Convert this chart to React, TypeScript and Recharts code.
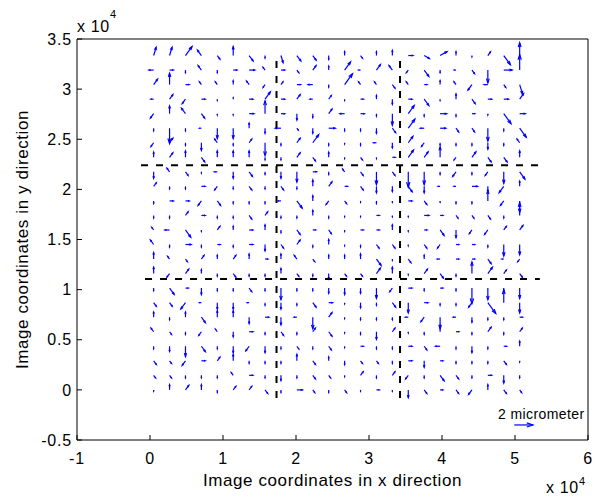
import { ScatterChart, XAxis, YAxis, ReferenceLine } from 'recharts'

// axis ticks (image pixels)
const xTicks = [-10000, 0, 10000, 20000, 30000, 40000, 50000, 60000]
const yTicks = [-5000, 0, 5000, 10000, 15000, 20000, 25000, 30000, 35000]

// measurement grid
const gridX = [500, 2680, 4860, 7040, 9220, 11400, 13580, 15760, 17940, 20120, 22300, 24480,
  26660, 28840, 31020, 33200, 35380, 37560, 39740, 41920, 44100, 46280, 48460, 50640]
const gridY = [0, 1450, 2900, 4350, 5800, 7250, 8700, 10150, 11600, 13050, 14500, 15950,
  17400, 18850, 20300, 21750, 23200, 24650, 26100, 27550, 29000, 30450, 31900, 33350]

// displacement per grid point: compass direction + length in 0.1 micrometer, top row first
const displacementRows = [
  'NNE7 NNE7 NE10 NW6 SE4 N7 SE6 S2 SSE6 SE6 SE5 S3 N3 SE3 N3 N4 E5 ESE6 ENE8 N3 S1 NE4 SE10 N10',
  'W5 E4 S2 NW5 S2 E4 E6 NW3 E4 SE3 NE5 N3 NE9 W2 NE6 NW5 SW3 SE7 S2 W2 SE4 S10 E9 N12',
  'NE6 N9 E4 NW3 NW3 N3 NW4 SW3 NE3 E4 W5 S2 NE12 NW3 NW3 SE4 NW3 E3 N3 NW3 SW6 W4 SE3 SSE8',
  'W3 NE5 SW5 E4 S1 N1 E4 NE8 E4 NE5 W3 NE4 S1 E3 N3 S4 E4 SE7 S1 N4 SE5 E4 E5 NE6',
  'SW5 N6 NW6 SE5 S1 S1 E5 N10 E4 S5 S3 NE5 W5 E4 S2 S9 NE9 S2 E7 S2 E3 S1 SE11 E6',
  'S2 S12 S2 W2 S8 S8 N4 S4 W6 SE2 S4 E7 S2 S2 S4 SE5 NE10 W4 E6 SE4 SE4 S10 S2 SE10',
  'SW4 NE5 S2 S6 NW4 S2 NE4 S10 S2 NE5 NE9 S2 S1 S2 W3 S4 NE7 SW4 S2 S2 S2 S5 S2 NW4',
  'N4 NE5 N5 SE5 N5 N5 N5 S2 S2 NE5 SE4 N4 S1 SE3 S1 E3 NE8 NE6 N8 SW3 NE6 SE5 SE5 N5',
  'S5 NW4 SE4 S1 W3 S5 SE5 S2 S5 S8 E4 S2 NW3 SE4 S10 SE4 S12 S10 S2 SW5 S2 SW4 S9 SE8',
  'NE4 S2 S2 E4 SW4 S2 SE4 S2 SE4 S2 N5 NE5 E3 SE4 S5 S4 SE6 S5 W2 W2 E6 S4 SW7 N4',
  'S2 E4 E4 SW5 SE5 S2 S2 S2 W3 SE8 N4 SW4 SE3 S1 S2 S1 E4 SE4 S1 S2 S2 N8 SW5 S9',
  'S2 S2 NE4 E4 S2 S2 SE4 NE4 S2 S2 N4 S2 S1 S1 E3 S1 S1 E5 E3 SE3 SE3 SE4 S2 N10',
  'NW3 W5 SE8 S1 NE4 N3 E4 N4 S2 SE5 E3 SE4 S1 E3 E3 N4 S1 E3 SE6 S6 SW4 SW5 NE4 NE5',
  'NW5 S2 E6 S2 E3 S2 E4 S5 SE4 NE5 S2 N4 S1 S2 SE4 SE4 S1 SE4 SW4 E3 E3 S2 S9 S8',
  'N5 NW3 SE3 NE4 N3 NE4 N4 E3 N4 NW4 SE3 N3 N3 N4 SE7 S1 SE4 N3 W3 E3 E3 SE5 W2 SW3',
  'N5 SW4 NE5 N3 S2 SE4 S2 S2 N4 SE3 S2 S4 SE3 SE3 NE6 N5 S1 NE5 SE5 S2 N9 NE7 NE4 SE4',
  'S2 SE7 E3 S5 S2 S2 SE4 S2 S9 S2 S2 S4 S5 S4 S8 SW4 E4 S2 E3 S2 S12 S9 S2 S8',
  'SE4 SE4 SW7 W2 S5 S5 W2 S2 S5 S2 SE5 E4 S1 S4 S2 SE5 S8 E4 S2 S2 SW5 SE12 N10 S8',
  'N4 S2 N4 SE6 N5 N5 S5 E4 S6 W3 S9 NE5 S1 S2 S2 S2 W3 SW5 S9 W3 S4 S2 S2 E3',
  'NW4 SE3 S2 SW4 NW3 S4 E4 S2 SE4 S2 NE4 SE5 S1 S2 S6 NE4 S1 S2 N5 E3 S2 NE5 S2 NE4',
  'S2 S4 S8 SE6 S2 S5 SW5 S5 S2 SE3 S2 SE4 S1 E3 S2 S2 E4 SE4 W5 S2 S5 S2 E3 N4',
  'SE4 SE3 SW5 E4 NE4 N5 S2 S2 S2 N5 SE4 N3 S3 SE3 SE3 S2 E4 S5 E3 S2 S2 S2 SE4 S1',
  'SE3 SE3 S2 S2 S2 NW3 E4 S2 S4 S2 SE4 SE3 S1 NE4 S2 NE4 SW4 S2 SE6 SE4 S2 E4 S6 S2',
  'S1 N4 NE5 N4 S2 NE4 NE4 SE4 S2 E6 SE3 S2 SE3 S1 E3 S1 S6 SE4 E3 SE4 SW5 N4 SE4 SE3',
]

// dashed section lines
const verticalCuts = [17330, 34250]
const verticalCutSpan = [-810, 33400]
const horizontalCuts = [
  { y: 22400, from: -1230, to: 53560 },
  { y: 11060, from: -680, to: 53400 },
]

// scale arrow: 2 micrometer
const scaleArrow = { x: 49900, y: -3500, microns: 2 }
const unitsPerMicron = 1280

const compass: Record<string, number> = {
  E: 0, ENE: 22.5, NE: 45, NNE: 67.5, N: 90, NNW: 112.5, NW: 135, WNW: 157.5,
  W: 180, WSW: 202.5, SW: 225, SSW: 247.5, S: 270, SSE: 292.5, SE: 315, ESE: 337.5,
}

const arrows = displacementRows.flatMap((row, r) => {
  const y = gridY[gridY.length - 1 - r]
  return row.split(' ').map((tok, c) => {
    const m = tok.match(/^([NSEW]+)(\d+)$/)!
    const ang = (compass[m[1]] * Math.PI) / 180
    const len = (Number(m[2]) / 10) * unitsPerMicron
    return { x: gridX[c], y, u: len * Math.cos(ang), v: len * Math.sin(ang) }
  })
})

function Arrow(props: any) {
  const { x1, y1, x2, y2 } = props
  const dx = x2 - x1
  const dy = y2 - y1
  if (!dx && !dy) return null
  const a = 0.33
  const b = 0.33
  const p1 = `${x2 - a * (dx + b * dy)},${y2 - a * (dy - b * dx)}`
  const p2 = `${x2 - a * (dx - b * dy)},${y2 - a * (dy + b * dx)}`
  return (
    <g>
      <line x1={x1} y1={y1} x2={x2} y2={y2} stroke="#0000ff" strokeWidth={1.2} />
      <polyline points={`${p1} ${x2},${y2} ${p2}`} fill="none" stroke="#0000ff" strokeWidth={1.2} />
    </g>
  )
}

const fmt = (v: number) => String(v / 10000)
const font = "'Liberation Sans', Arial, sans-serif"

export default function App() {
  return (
    <div style={{ position: 'absolute', left: 0, top: 0, width: 602, height: 496, background: '#fff', fontFamily: font }}>
      <ScatterChart width={602} height={496} margin={{ top: 38, right: 13, bottom: 6, left: 17 }}>
        <XAxis
          type="number"
          dataKey="x"
          domain={[-10000, 60000]}
          ticks={xTicks}
          interval={0}
          allowDataOverflow
          tickFormatter={fmt}
          tickSize={-5}
          tickMargin={18}
          height={50}
          stroke="#000"
          tick={{ fill: '#000', fontSize: 16, letterSpacing: 0.8 }}
          label={{ value: 'Image coordinates in x direction', position: 'insideBottom', offset: 4, fill: '#000', fontSize: 17, letterSpacing: 0.6 }}
        />
        <XAxis xAxisId="top" orientation="top" type="number" domain={[-10000, 60000]} ticks={xTicks} interval={0}
          allowDataOverflow height={1} tick={false} tickSize={-5} stroke="#000" />
        <YAxis
          type="number"
          dataKey="y"
          domain={[-5000, 35000]}
          ticks={yTicks}
          interval={0}
          allowDataOverflow
          tickFormatter={fmt}
          tickSize={-5}
          tickMargin={10}
          width={60}
          stroke="#000"
          tick={{ fill: '#000', fontSize: 16, letterSpacing: 0.8 }}
          label={{ value: 'Image coordinates in y direction', angle: -90, position: 'insideLeft', offset: 5, fill: '#000', fontSize: 17, letterSpacing: 0.6, style: { textAnchor: 'middle' } }}
        />
        <YAxis yAxisId="right" orientation="right" type="number" domain={[-5000, 35000]} ticks={yTicks} interval={0}
          allowDataOverflow width={1} tick={false} tickSize={-5} stroke="#000" />

        {arrows.map((a, i) => (
          <ReferenceLine key={i} segment={[{ x: a.x, y: a.y }, { x: a.x + a.u, y: a.y + a.v }]} shape={Arrow} ifOverflow="visible" />
        ))}

        {verticalCuts.map((x) => (
          <ReferenceLine key={'v' + x} segment={[{ x, y: verticalCutSpan[0] }, { x, y: verticalCutSpan[1] }]}
            stroke="#000" strokeWidth={2} strokeDasharray="7 8" ifOverflow="visible" />
        ))}
        {horizontalCuts.map((h) => (
          <ReferenceLine key={'h' + h.y} segment={[{ x: h.from, y: h.y }, { x: h.to, y: h.y }]}
            stroke="#000" strokeWidth={2} strokeDasharray="7 8" ifOverflow="visible" />
        ))}

        <ReferenceLine
          segment={[{ x: scaleArrow.x, y: scaleArrow.y }, { x: scaleArrow.x + scaleArrow.microns * unitsPerMicron, y: scaleArrow.y }]}
          shape={Arrow}
          ifOverflow="visible"
        />
      </ScatterChart>
      <svg width={602} height={496} style={{ position: 'absolute', left: 0, top: 0, pointerEvents: 'none' }}>
        <text x={77} y={31.5} fontSize={16} fill="#000" letterSpacing={0.6}>x 10</text>
        <text x={110} y={18} fontSize={11} fill="#000">4</text>
        <text x={546} y={493} fontSize={16} fill="#000" letterSpacing={0.6}>x 10</text>
        <text x={579} y={485} fontSize={11} fill="#000">4</text>
        <text x={498} y={418.5} fontSize={14} fill="#000" letterSpacing={0.4}>2 micrometer</text>
      </svg>
    </div>
  )
}
